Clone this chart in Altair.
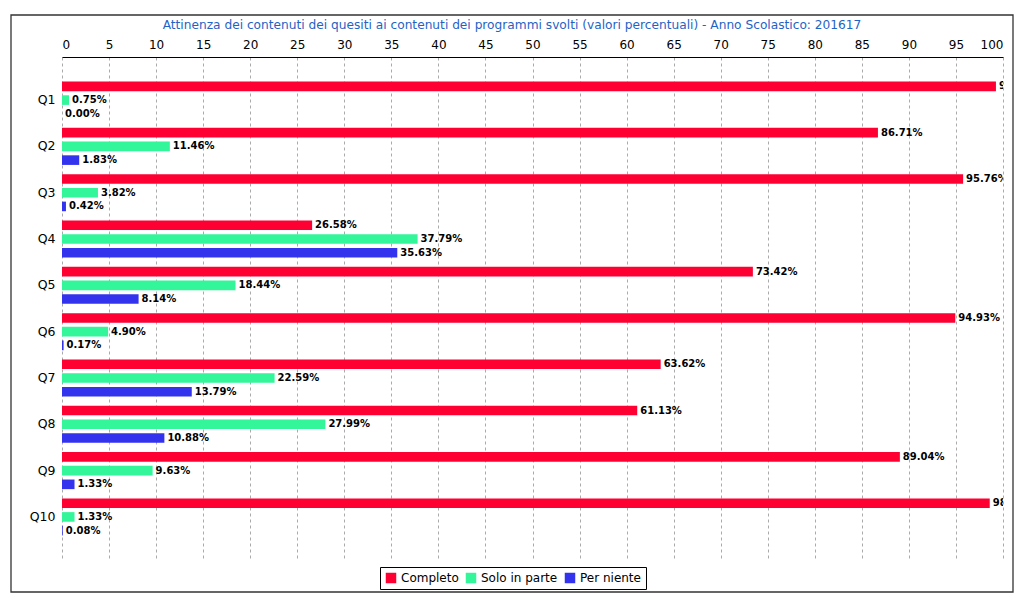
import altair as alt
import pandas as pd

questions = ["Q1", "Q2", "Q3", "Q4", "Q5", "Q6", "Q7", "Q8", "Q9", "Q10"]
series = ["Completo", "Solo in parte", "Per niente"]
completo = [99.25, 86.71, 95.76, 26.58, 73.42, 94.93, 63.62, 61.13, 89.04, 98.59]
solo_in_parte = [0.75, 11.46, 3.82, 37.79, 18.44, 4.90, 22.59, 27.99, 9.63, 1.33]
per_niente = [0.00, 1.83, 0.42, 35.63, 8.14, 0.17, 13.79, 10.88, 1.33, 0.08]
colors = ["#ff0033", "#33f599", "#3333ee"]
ticks = list(range(0, 101, 5))
title = ("Attinenza dei contenuti dei quesiti ai contenuti dei programmi svolti "
         "(valori percentuali) - Anno Scolastico: 201617")

rows = []
for i, q in enumerate(questions):
    for s, vals in zip(series, [completo, solo_in_parte, per_niente]):
        rows.append({"q": q, "serie": s, "val": vals[i]})
df = pd.DataFrame(rows)

FONT = "DejaVu Sans"

base = alt.Chart(df).encode(
    y=alt.Y("q:N", sort=questions, title=None,
            scale=alt.Scale(paddingInner=0.2, paddingOuter=0.53),
            axis=alt.Axis(domain=False, ticks=False, labelFontSize=12.5, labelFont=FONT,
                          labelColor="black", labelPadding=7, grid=False)),
    yOffset=alt.YOffset("serie:N", sort=series, scale=alt.Scale(paddingInner=0.3)),
)

bars = base.mark_bar().encode(
    x=alt.X("val:Q", title=None, scale=alt.Scale(domain=[0, 100], nice=False),
            axis=alt.Axis(orient="top", values=ticks, grid=True, gridDash=[3, 3],
                          gridColor="#aaaaaa", gridWidth=1, ticks=False,
                          domainColor="black", domainWidth=1,
                          labelFontSize=12, labelFont=FONT, labelColor="black",
                          labelPadding=6)),
    color=alt.Color("serie:N", sort=series,
                    scale=alt.Scale(domain=series, range=colors),
                    legend=alt.Legend(title=None, orient="none", legendX=318, legendY=510,
                                      direction="horizontal", strokeColor="black",
                                      fillColor="white", padding=5,
                                      symbolType="square", symbolSize=110,
                                      symbolStrokeWidth=0, symbolOpacity=1,
                                      labelFontSize=12, labelFont=FONT,
                                      labelColor="black", columnPadding=6)),
)

labels = base.transform_calculate(
    label="format(datum.val, '.2f') + '%'"
).mark_text(align="left", baseline="middle", dx=3, fontSize=10, fontWeight="bold",
            font=FONT, color="black", clip=True).encode(
    x=alt.X("val:Q"),
    text="label:N",
)

one = pd.DataFrame({"a": [0]})

border = alt.Chart(one).mark_rect(
    filled=False, stroke="#333333", strokeWidth=1.3
).encode(
    x=alt.value(-51), x2=alt.value(951), y=alt.value(-42), y2=alt.value(535)
)

title_mark = alt.Chart(one).mark_text(
    text=title, color="#1f63c6", fontSize=12.2, font=FONT, align="center",
    baseline="middle"
).encode(x=alt.value(450), y=alt.value(-32))

chart = alt.layer(bars, labels, border, title_mark).properties(
    width=941, height=503,
    autosize=alt.AutoSizeParams(type="none"),
    padding={"left": 54, "top": 49, "right": 11, "bottom": 36},
).configure_view(stroke=None)

chart.save("out.html", embed_options={"renderer": "svg", "actions": False})
